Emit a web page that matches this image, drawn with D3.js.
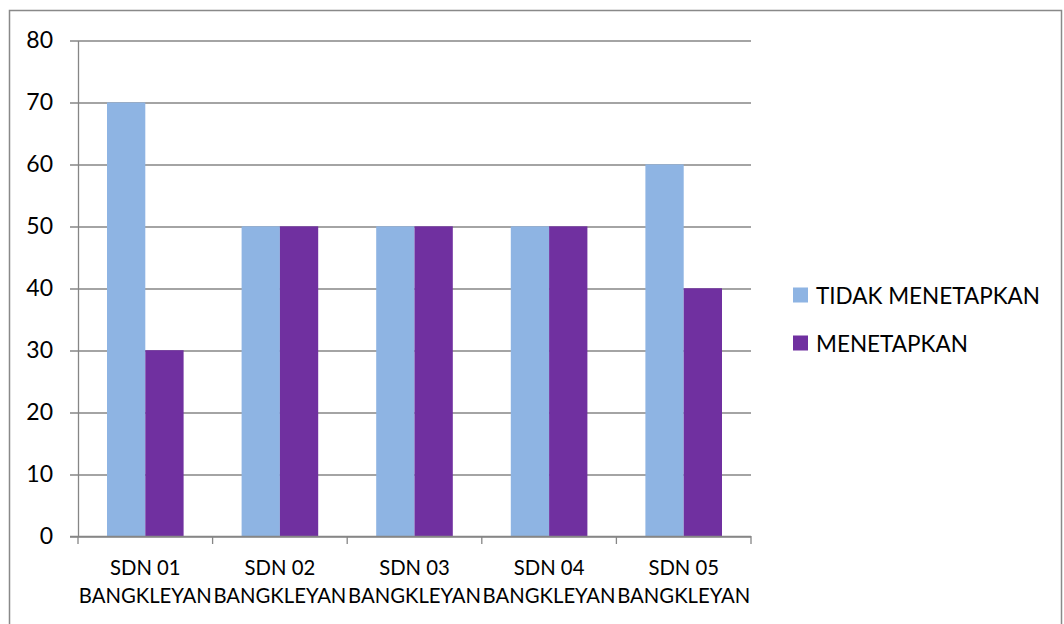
<!DOCTYPE html>
<html>
<head>
<meta charset="utf-8">
<script src="https://cdn.jsdelivr.net/npm/d3@7"></script>
<style>
  body { margin: 0; background: #fff; }
  svg { display: block; font-family: Lato, "Open Sans", sans-serif; }
</style>
</head>
<body>
<div id="wrapper"></div>
<script>
// data
const categories = [
  ["SDN 01", "BANGKLEYAN"],
  ["SDN 02", "BANGKLEYAN"],
  ["SDN 03", "BANGKLEYAN"],
  ["SDN 04", "BANGKLEYAN"],
  ["SDN 05", "BANGKLEYAN"],
];
const seriesNames = ["TIDAK MENETAPKAN", "MENETAPKAN"];
const tidakMenetapkan = [70, 50, 50, 50, 60];
const menetapkan = [30, 50, 50, 50, 40];
const yTicks = [0, 10, 20, 30, 40, 50, 60, 70, 80];
const colors = ["#8EB4E3", "#7030A0"];

function drawBarChart() {
  // 1. dimensions
  let dimensions = {
    width: 1064,
    height: 624,
    margin: { top: 40.5, right: 313, bottom: 88, left: 78 },
  };
  dimensions.boundedWidth =
    dimensions.width - dimensions.margin.left - dimensions.margin.right;
  dimensions.boundedHeight =
    dimensions.height - dimensions.margin.top - dimensions.margin.bottom;

  // 2. canvas
  const wrapper = d3
    .select("#wrapper")
    .append("svg")
    .attr("width", dimensions.width)
    .attr("height", dimensions.height);

  // outer chart border
  wrapper
    .append("rect")
    .attr("x", 9.5)
    .attr("y", 10.5)
    .attr("width", 1052)
    .attr("height", 640)
    .attr("fill", "none")
    .attr("stroke", "#898989")
    .attr("stroke-width", 1.5);

  const bounds = wrapper
    .append("g")
    .attr("transform", `translate(${dimensions.margin.left},${dimensions.margin.top})`);

  // 3. scales
  const xScale = d3
    .scaleBand()
    .domain(d3.range(categories.length))
    .range([0, dimensions.boundedWidth])
    .paddingInner(0)
    .paddingOuter(0);

  const yScale = d3
    .scaleLinear()
    .domain([0, 80])
    .range([dimensions.boundedHeight, 0]);

  const groupPad = 29;
  const xSub = d3
    .scaleBand()
    .domain(d3.range(seriesNames.length))
    .range([groupPad, xScale.bandwidth() - groupPad]);

  // 4. gridlines
  bounds
    .append("g")
    .selectAll("line")
    .data(yTicks)
    .enter()
    .append("line")
    .attr("x1", -8)
    .attr("x2", dimensions.boundedWidth)
    .attr("y1", (d) => Math.round(yScale(d)) + 0.5)
    .attr("y2", (d) => Math.round(yScale(d)) + 0.5)
    .attr("stroke", "#868686")
    .attr("stroke-width", 1.3);

  // 5. bars
  const seriesData = [tidakMenetapkan, menetapkan];
  seriesData.forEach((vals, s) => {
    bounds
      .append("g")
      .selectAll("rect")
      .data(vals)
      .enter()
      .append("rect")
      .attr("x", (d, i) => xScale(i) + xSub(s))
      .attr("y", (d) => yScale(d))
      .attr("width", xSub.bandwidth())
      .attr("height", (d) => dimensions.boundedHeight - yScale(d))
      .attr("fill", colors[s]);
  });

  // 6. axes
  const yAxis = bounds
    .append("g")
    .call(d3.axisLeft(yScale).tickValues(yTicks).tickSize(0).tickPadding(25));
  yAxis.select(".domain").attr("stroke", "#868686").attr("stroke-width", 1.3);
  yAxis.selectAll("text").style("font-size", "23px").attr("fill", "#000")
    .attr("font-family", "Lato, sans-serif");

  const xAxis = bounds
    .append("g")
    .attr("transform", `translate(0,${dimensions.boundedHeight})`);
  xAxis
    .append("line")
    .attr("x1", -8)
    .attr("x2", dimensions.boundedWidth)
    .attr("y1", 0.5)
    .attr("y2", 0.5)
    .attr("stroke", "#868686")
    .attr("stroke-width", 1.3);
  xAxis
    .selectAll(".tick")
    .data(d3.range(categories.length + 1))
    .enter()
    .append("line")
    .attr("x1", (d) => d * xScale.step())
    .attr("x2", (d) => d * xScale.step())
    .attr("y1", 0)
    .attr("y2", 8)
    .attr("stroke", "#868686")
    .attr("stroke-width", 1.3);

  const labels = xAxis
    .selectAll("text")
    .data(categories)
    .enter()
    .append("text")
    .attr("x", (d, i) => xScale(i) + xScale.bandwidth() / 2)
    .attr("y", 39)
    .attr("text-anchor", "middle")
    .style("font-size", "20.3px")
    .attr("fill", "#000");
  labels.each(function (d) {
    const t = d3.select(this);
    d.forEach((line, j) => {
      t.append("tspan")
        .attr("x", t.attr("x"))
        .attr("dy", j === 0 ? 0 : 28)
        .text(line);
    });
  });

  // 7. legend
  const legend = wrapper
    .append("g")
    .attr("transform", "translate(793,295)");
  const items = legend
    .selectAll("g")
    .data(seriesNames)
    .enter()
    .append("g")
    .attr("transform", (d, i) => `translate(0,${i * 48})`);
  items
    .append("rect")
    .attr("x", 0)
    .attr("y", -7.5)
    .attr("width", 15)
    .attr("height", 15)
    .attr("fill", (d, i) => colors[i]);
  items
    .append("text")
    .attr("x", 23)
    .attr("y", 8.5)
    .style("font-size", "22.5px")
    .attr("fill", "#000")
    .text((d) => d);
}

drawBarChart();
</script>
</body>
</html>
